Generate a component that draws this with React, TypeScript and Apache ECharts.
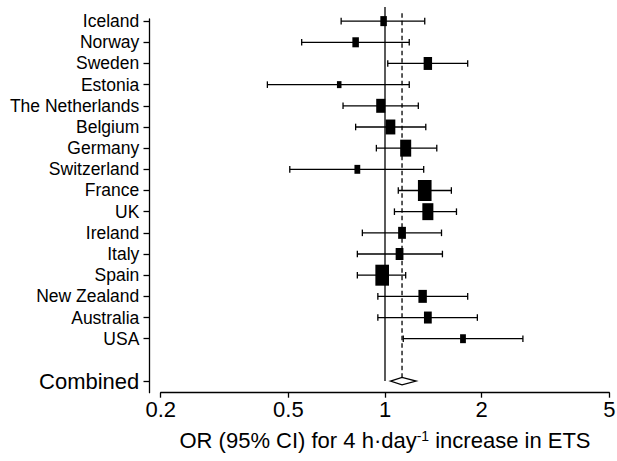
import { useEffect, useRef } from "react";
import * as echarts from "echarts";

// ---- data ----
const countries = [
  "Iceland", "Norway", "Sweden", "Estonia", "The Netherlands", "Belgium", "Germany",
  "Switzerland", "France", "UK", "Ireland", "Italy", "Spain", "New Zealand", "Australia", "USA",
];
const orValues = [0.99, 0.81, 1.36, 0.72, 0.97, 1.04, 1.16, 0.82, 1.33, 1.36, 1.13, 1.11, 0.98, 1.31, 1.36, 1.75];
const ciLower = [0.73, 0.55, 1.02, 0.43, 0.74, 0.81, 0.94, 0.505, 1.10, 1.07, 0.85, 0.82, 0.82, 0.95, 0.95, 1.14];
const ciUpper = [1.33, 1.19, 1.81, 1.19, 1.27, 1.34, 1.45, 1.32, 1.61, 1.67, 1.50, 1.51, 1.16, 1.81, 1.94, 2.69];
const weights = [3.3, 3.3, 5.5, 1.6, 6.4, 7.3, 9.4, 2.6, 14.4, 9.4, 4.7, 4.7, 14.4, 5.5, 4.7, 2.6];
const combinedLabel = "Combined";
const combinedEstimate = [1.13];
const combinedLower = [1.04];
const combinedUpper = [1.25];
const nullValue = [1];
const xTicks = [0.2, 0.5, 1, 2, 5];

const SANS = "'Liberation Sans', Arial, Helvetica, sans-serif";

export default function App() {
  const ref = useRef<HTMLDivElement>(null);

  useEffect(() => {
    if (!ref.current) return;
    const chart = echarts.init(ref.current, null, { renderer: "svg" });
    const L = Math.log10;
    const combinedRow = countries.length + 2;
    const studyRows = countries.map((_, i) => [i + 1, L(ciLower[i]), L(orValues[i]), L(ciUpper[i]), weights[i]]);
    const yTickValues = [...countries.map((_, i) => i + 1), combinedRow];
    const diamondHalf = 3.7;

    const option: any = {
      animation: false,
      backgroundColor: "#fff",
      grid: { left: 160.7, right: 7.7, top: 19, bottom: 68.3, containLabel: false, outerBoundsMode: "none" },
      xAxis: {
        type: "value",
        min: L(0.2),
        max: L(5),
        axisLine: { onZero: false, lineStyle: { color: "#000", width: 1.3 } },
        axisTick: { show: true, length: 5, customValues: xTicks.map(L), lineStyle: { color: "#000", width: 1.3 } },
        axisLabel: {
          customValues: xTicks.map(L),
          formatter: (v: number) => String(Number(Math.pow(10, v).toPrecision(2))),
          color: "#000",
          fontFamily: SANS,
          fontSize: 22,
          margin: 6,
        },
        splitLine: { show: false },
        name: "OR (95% CI) for 4 h·day{sup|-1} increase in ETS",
        nameLocation: "middle",
        nameGap: 36,
        nameTextStyle: {
          color: "#000",
          fontFamily: SANS,
          fontSize: 22,
          rich: {
            sup: { fontSize: 14, fontFamily: SANS, color: "#000", verticalAlign: "top", padding: [0, 0, 10, 0] },
          },
        },
      },
      yAxis: {
        type: "value",
        inverse: true,
        min: 0.9,
        max: 18.55,
        offset: 11.7,
        axisLine: { show: true, onZero: false, lineStyle: { color: "#000", width: 1.3 } },
        axisTick: { show: true, length: 5.5, customValues: yTickValues, lineStyle: { color: "#000", width: 1.3 } },
        axisLabel: {
          customValues: yTickValues,
          formatter: (v: number) => (v === combinedRow ? `{big|${combinedLabel}}` : countries[v - 1] ?? ""),
          color: "#000",
          fontFamily: SANS,
          fontSize: 17.5,
          margin: 9.7,
          rich: { big: { fontFamily: SANS, fontSize: 22, color: "#000" } },
        },
        splitLine: { show: false },
      },
      series: [
        {
          type: "custom",
          name: "reference",
          clip: false,
          data: [[L(nullValue[0]), 0.332, combinedRow, 0], [L(combinedEstimate[0]), 0.63, combinedRow, 1]],
          encode: { x: 0, y: [1, 2] },
          renderItem: (_p: any, api: any) => {
            const dashed = api.value(3) === 1;
            const top = api.coord([api.value(0), api.value(1)]);
            const bot = api.coord([api.value(0), api.value(2)]);
            return {
              type: "line",
              shape: { x1: top[0], y1: top[1], x2: bot[0], y2: dashed ? bot[1] - diamondHalf : bot[1] },
              style: { stroke: "#000", lineWidth: 1.3, lineDash: dashed ? [4.5, 3] : null },
            };
          },
        },
        {
          type: "custom",
          name: "studies",
          clip: false,
          data: studyRows,
          encode: { y: 0, x: [1, 2, 3] },
          renderItem: (_p: any, api: any) => {
            const y = api.value(0);
            const lo = api.coord([api.value(1), y]);
            const est = api.coord([api.value(2), y]);
            const hi = api.coord([api.value(3), y]);
            const h = 5.53 * Math.sqrt(api.value(4));
            const w = h * 0.65;
            const cap = 3.3;
            const st = { stroke: "#000", lineWidth: 1.3 };
            return {
              type: "group",
              children: [
                { type: "line", shape: { x1: lo[0], y1: lo[1], x2: hi[0], y2: hi[1] }, style: st },
                { type: "line", shape: { x1: lo[0], y1: lo[1] - cap, x2: lo[0], y2: lo[1] + cap }, style: st },
                { type: "line", shape: { x1: hi[0], y1: hi[1] - cap, x2: hi[0], y2: hi[1] + cap }, style: st },
                { type: "rect", shape: { x: est[0] - w / 2, y: est[1] - h / 2, width: w, height: h }, style: { fill: "#000" } },
              ],
            };
          },
        },
        {
          type: "custom",
          name: "combined",
          clip: false,
          data: [[combinedRow, L(combinedLower[0]), L(combinedEstimate[0]), L(combinedUpper[0])]],
          encode: { y: 0, x: [1, 2, 3] },
          renderItem: (_p: any, api: any) => {
            const y = api.value(0);
            const lo = api.coord([api.value(1), y]);
            const est = api.coord([api.value(2), y]);
            const hi = api.coord([api.value(3), y]);
            return {
              type: "polygon",
              shape: {
                points: [
                  [lo[0], lo[1]],
                  [est[0], est[1] - diamondHalf],
                  [hi[0], hi[1]],
                  [est[0], est[1] + diamondHalf],
                ],
              },
              style: { fill: "#fff", stroke: "#000", lineWidth: 1.3 },
            };
          },
        },
      ],
    };

    chart.setOption(option);
    return () => chart.dispose();
  }, []);

  return <div ref={ref} style={{ position: "absolute", left: 0, top: 0, width: 617, height: 461 }} />;
}
